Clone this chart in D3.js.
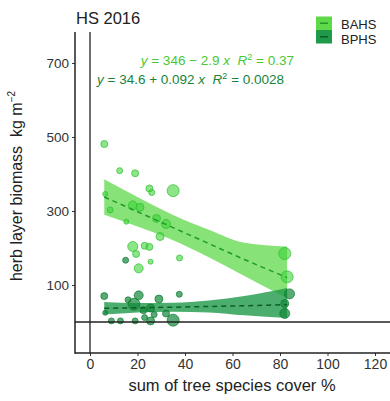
<!DOCTYPE html>
<html><head><meta charset="utf-8">
<script src="https://cdn.jsdelivr.net/npm/d3@7"></script>
<style>
html,body{margin:0;padding:0;background:#fff;}
svg text{font-family:"Liberation Sans",Arial,sans-serif;}
</style></head>
<body><svg id="c" width="390" height="401"></svg>
<script>
// ---- data ----
const xTicks = [0, 20, 40, 60, 80, 100, 120];
const yTicks = [100, 300, 500, 700];
const seriesNames = ["BAHS", "BPHS"];
// points: cover %, biomass, point size
const bahsX = [6, 12.5, 19, 25, 26, 35, 6.4, 8.5, 18, 21, 15.3, 28, 32, 29.5, 18, 23, 25, 19.4, 25.5, 37.7, 20.5, 82, 83];
const bahsY = [481, 409, 402, 361, 350, 355, 346, 303, 315, 310, 271, 280, 265, 231, 204, 206, 203, 184, 163, 173, 145, 185, 122];
const bahsS = [3.5, 3, 3.5, 3.5, 3, 6, 2.5, 3, 4.5, 4, 2.5, 4, 4.5, 4, 5, 3.5, 3.5, 3.5, 2.5, 3, 4.5, 6, 6];
const bphsX = [6, 15, 37.6, 29, 20.5, 18.5, 22.5, 25.5, 6.4, 9, 12.8, 19, 25.5, 35, 32, 27, 84, 82, 16, 23, 82];
const bphsY = [70, 167, 75, 62, 72, 48, 32, 38, 25, 3, 3, 3, 3, 5, 23, 20, 76, 23, 60, 12, 50];
const bphsS = [3.5, 3, 3, 4, 4.5, 6, 3.5, 4, 2.5, 3, 3, 3, 4, 6, 3.5, 3, 5, 5, 3, 3, 4];
// fitted line and confidence band
const bandX = [6, 20, 35, 50, 65, 83];
const bahsFit = [338, 298, 255, 212, 169, 120];
const bahsLo = [290, 258, 221, 175, 124, 64];
const bahsHi = [386, 338, 289, 249, 214, 204];
const bphsFit = [37, 38.5, 40, 42, 44, 47];
const bphsLo = [20, 25.5, 28, 26, 18, 11];
const bphsHi = [54, 51.5, 52, 58, 70, 92];
const eqBAHS = "346 \u2212 2.9";
const r2BAHS = "0.37";
const eqBPHS = "34.6 + 0.092";
const r2BPHS = "0.0028";

// ---- drawing ----
const svg = d3.select("#c");
const x = d3.scaleLinear().domain([0, 120]).range([90, 375]);
const y = d3.scaleLinear().domain([0, 700]).range([322, 63]);
const pLeft = 75, pBottom = 353, pTop = 32, pRight = 390;

const lightFill = "#3fd43a", darkFill = "#13883a";
const lightBand = "#5fd84a", darkBand = "#1f9a4a";

// bands
const area = d3.area().x(d => x(d.x)).y0(d => y(d.lo)).y1(d => y(d.hi)).curve(d3.curveMonotoneX);
const line = d3.line().x(d => x(d.x)).y(d => y(d.f)).curve(d3.curveMonotoneX);
const mk = (lo, hi, f) => bandX.map((v, i) => ({x: v, lo: lo[i], hi: hi[i], f: f[i]}));
const bA = mk(bahsLo, bahsHi, bahsFit), bP = mk(bphsLo, bphsHi, bphsFit);

svg.append("path").datum(bA).attr("d", area).attr("fill", lightBand).attr("opacity", 0.75);
svg.append("path").datum(bP).attr("d", area).attr("fill", darkBand).attr("opacity", 0.8);

// points
const ptsA = bahsX.map((v, i) => ({x: v, y: bahsY[i], s: bahsS[i]}));
const ptsP = bphsX.map((v, i) => ({x: v, y: bphsY[i], s: bphsS[i]}));
svg.append("g").selectAll("circle").data(ptsA).join("circle")
  .attr("cx", d => x(d.x)).attr("cy", d => y(d.y)).attr("r", d => d.s)
  .attr("fill", lightFill).attr("fill-opacity", 0.6)
  .attr("stroke", "#2cbf2c").attr("stroke-width", 1).attr("stroke-opacity", 0.7);
svg.append("g").selectAll("circle").data(ptsP).join("circle")
  .attr("cx", d => x(d.x)).attr("cy", d => y(d.y)).attr("r", d => d.s)
  .attr("fill", darkFill).attr("fill-opacity", 0.7)
  .attr("stroke", "#0e7a30").attr("stroke-width", 1).attr("stroke-opacity", 0.7);

// fit lines
svg.append("path").datum(bA).attr("d", line).attr("fill", "none")
  .attr("stroke", "#1f9a2a").attr("stroke-width", 1.5).attr("stroke-dasharray", "5,4");
svg.append("path").datum(bP).attr("d", line).attr("fill", "none")
  .attr("stroke", "#0b5e28").attr("stroke-width", 1.5).attr("stroke-dasharray", "5,4");

// zero lines
svg.append("line").attr("x1", x(0)).attr("x2", x(0)).attr("y1", pTop).attr("y2", pBottom)
  .attr("stroke", "#222").attr("stroke-width", 1.3);
svg.append("line").attr("x1", pLeft).attr("x2", pRight).attr("y1", y(0)).attr("y2", y(0))
  .attr("stroke", "#222").attr("stroke-width", 1.3);

// axes
const yAxis = d3.axisLeft(y).tickValues(yTicks).tickSize(3).tickPadding(3);
const gy = svg.append("g").attr("transform", `translate(${pLeft},0)`).call(yAxis);
gy.select(".domain").remove();
gy.selectAll("text").attr("font-size", 13.5).attr("fill", "#333");
gy.selectAll("line").attr("stroke", "#333");
const xAxis = d3.axisBottom(x).tickValues(xTicks).tickSize(3).tickPadding(3);
const gx = svg.append("g").attr("transform", `translate(0,${pBottom})`).call(xAxis);
gx.select(".domain").remove();
gx.selectAll("text").attr("font-size", 14).attr("fill", "#333");
gx.selectAll("line").attr("stroke", "#333");

svg.append("line").attr("x1", pLeft).attr("x2", pLeft).attr("y1", pTop).attr("y2", pBottom + 0.7)
  .attr("stroke", "#222").attr("stroke-width", 1.5);
svg.append("line").attr("x1", pLeft).attr("x2", pRight).attr("y1", pBottom).attr("y2", pBottom)
  .attr("stroke", "#222").attr("stroke-width", 1.5);

// axis titles
svg.append("text").attr("x", 232).attr("y", 391).attr("text-anchor", "middle")
  .attr("font-size", 16.5).attr("fill", "#222").text("sum of tree species cover %");
const yt = svg.append("text").attr("transform", "translate(22,186) rotate(-90)")
  .attr("text-anchor", "middle").attr("font-size", 16).attr("fill", "#222");
yt.append("tspan").text("herb layer biomass\u00a0\u00a0kg m");
yt.append("tspan").attr("dy", -7).attr("font-size", 10).text("\u22122");

// title
svg.append("text").attr("x", 76).attr("y", 24).attr("font-size", 16.5).attr("fill", "#222").text("HS 2016");

// equations
function eq(tx, ty, anchor, color, body, r2) {
  const t = svg.append("text").attr("x", tx).attr("y", ty).attr("font-size", 13.5)
    .attr("text-anchor", anchor).attr("fill", color);
  t.append("tspan").attr("font-style", "italic").text("y");
  t.append("tspan").text(" = " + body + " ");
  t.append("tspan").attr("font-style", "italic").text("x");
  t.append("tspan").text("\u00a0\u00a0");
  t.append("tspan").attr("font-style", "italic").text("R");
  t.append("tspan").attr("dy", -5).attr("font-size", 9).text("2");
  t.append("tspan").attr("dy", 5).text(" = " + r2);
}
eq(294, 65, "end", "#49c932", eqBAHS, r2BAHS);
eq(97, 84, "start", "#17843a", eqBPHS, r2BPHS);

// legend
const leg = svg.append("g");
seriesNames.forEach((n, i) => {
  const ky = 16.5 + i * 13.5;
  leg.append("rect").attr("x", 316).attr("y", ky).attr("width", 16).attr("height", 13.5)
    .attr("fill", i === 0 ? lightBand : darkBand);
  leg.append("line").attr("x1", 320).attr("x2", 328).attr("y1", ky + 6.75).attr("y2", ky + 6.75)
    .attr("stroke", i === 0 ? "#1f9a2a" : "#0b5e28").attr("stroke-width", 1.5);
  leg.append("text").attr("x", 341).attr("y", 29 + i * 14.5).attr("font-size", 13).attr("fill", "#222").text(n);
});
</script></body></html>
